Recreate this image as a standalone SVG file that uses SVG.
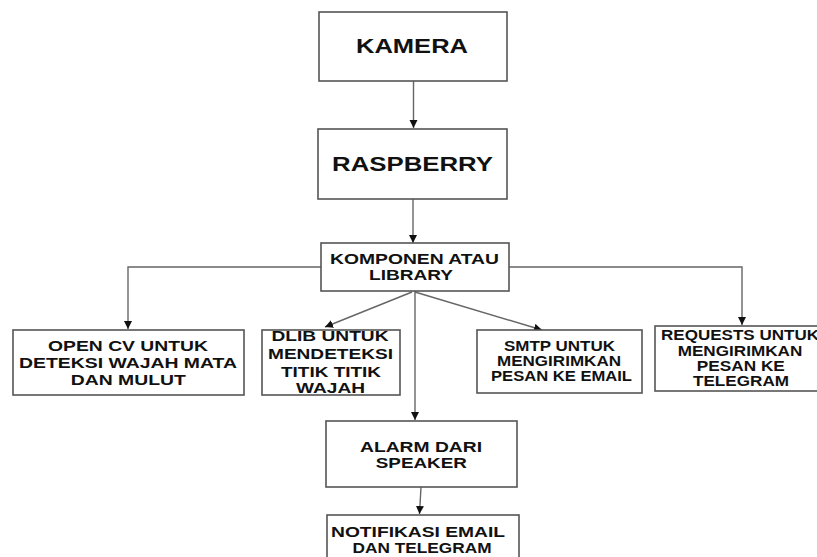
<svg xmlns="http://www.w3.org/2000/svg" width="817" height="557" viewBox="0 0 817 557">
<style>
.box{fill:#fff;stroke:#555;stroke-width:1.6}
.t{font-family:"Liberation Sans",Arial,sans-serif;font-weight:bold;fill:#111;text-anchor:middle}
.big{font-size:20px}
.sm{font-size:15px}
.xs{font-size:14px}
.c{fill:none;stroke:#666;stroke-width:1.4;marker-end:url(#ah)}
</style>
<defs>
<marker id="ah" markerUnits="userSpaceOnUse" markerWidth="10" markerHeight="10" refX="8" refY="4" orient="auto">
<path d="M0,0 L8,4 L0,8 z" fill="#111"/>
</marker>
</defs>
<rect width="817" height="557" fill="#fff"/>
<g id="connectors">
<line class="c" x1="413.5" y1="81" x2="413.5" y2="128"/>
<line class="c" x1="413" y1="199" x2="413" y2="243"/>
<polyline class="c" points="321,267 128,267 128,329"/>
<polyline class="c" points="509,267 742,267 742,325"/>
<line class="c" x1="412" y1="292" x2="325" y2="327"/>
<line class="c" x1="415" y1="292" x2="542" y2="330"/>
<line class="c" x1="415" y1="291" x2="415" y2="420"/>
<line class="c" x1="421" y1="487" x2="419.5" y2="514"/>
</g>
<g id="kamera">
<rect class="box" x="319" y="12" width="188" height="69"/>
<text class="t big" x="412" y="53.3" textLength="112" lengthAdjust="spacingAndGlyphs">KAMERA</text>
</g>
<g id="raspberry">
<rect class="box" x="318" y="129" width="189" height="70"/>
<text class="t big" x="412.5" y="170.7" textLength="161" lengthAdjust="spacingAndGlyphs">RASPBERRY</text>
</g>
<g id="komponen">
<rect class="box" x="321" y="243" width="188" height="48"/>
<text class="t sm" x="414.5" y="263.5" textLength="169" lengthAdjust="spacingAndGlyphs">KOMPONEN ATAU</text>
<text class="t sm" x="411" y="280" textLength="84" lengthAdjust="spacingAndGlyphs">LIBRARY</text>
</g>
<g id="opencv">
<rect class="box" x="13" y="330" width="231" height="65"/>
<text class="t sm" x="128" y="350.7" textLength="160" lengthAdjust="spacingAndGlyphs">OPEN CV UNTUK</text>
<text class="t sm" x="128" y="367.7" textLength="218" lengthAdjust="spacingAndGlyphs">DETEKSI WAJAH MATA</text>
<text class="t sm" x="128.3" y="385.3" textLength="115" lengthAdjust="spacingAndGlyphs">DAN MULUT</text>
</g>
<g id="dlib">
<rect class="box" x="262" y="330" width="138" height="65"/>
<text class="t sm" x="330" y="341" textLength="117" lengthAdjust="spacingAndGlyphs">DLIB UNTUK</text>
<text class="t sm" x="330.5" y="359.3" textLength="125" lengthAdjust="spacingAndGlyphs">MENDETEKSI</text>
<text class="t sm" x="331" y="376.7" textLength="100" lengthAdjust="spacingAndGlyphs">TITIK TITIK</text>
<text class="t sm" x="330.5" y="392.7" textLength="69" lengthAdjust="spacingAndGlyphs">WAJAH</text>
</g>
<g id="smtp">
<rect class="box" x="477" y="330" width="165" height="63"/>
<text class="t xs" x="559.5" y="351" textLength="111" lengthAdjust="spacingAndGlyphs">SMTP UNTUK</text>
<text class="t xs" x="559" y="366" textLength="124" lengthAdjust="spacingAndGlyphs">MENGIRIMKAN</text>
<text class="t xs" x="561.5" y="381" textLength="141" lengthAdjust="spacingAndGlyphs">PESAN KE EMAIL</text>
</g>
<g id="requests">
<rect class="box" x="655" y="326" width="170" height="65"/>
<text class="t xs" x="740" y="340" textLength="158" lengthAdjust="spacingAndGlyphs">REQUESTS UNTUK</text>
<text class="t xs" x="740" y="355.5" textLength="124.6" lengthAdjust="spacingAndGlyphs">MENGIRIMKAN</text>
<text class="t xs" x="740.8" y="371" textLength="88" lengthAdjust="spacingAndGlyphs">PESAN KE</text>
<text class="t xs" x="741" y="386" textLength="96" lengthAdjust="spacingAndGlyphs">TELEGRAM</text>
</g>
<g id="alarm">
<rect class="box" x="326" y="421" width="191" height="66"/>
<text class="t sm" x="421" y="451.7" textLength="122" lengthAdjust="spacingAndGlyphs">ALARM DARI</text>
<text class="t sm" x="421.3" y="468.3" textLength="91" lengthAdjust="spacingAndGlyphs">SPEAKER</text>
</g>
<g id="notifikasi">
<rect class="box" x="327" y="515" width="192" height="60"/>
<text class="t sm" x="418" y="536.7" textLength="174" lengthAdjust="spacingAndGlyphs">NOTIFIKASI EMAIL</text>
<text class="t sm" x="422" y="553.3" textLength="139" lengthAdjust="spacingAndGlyphs">DAN TELEGRAM</text>
</g>
</svg>
